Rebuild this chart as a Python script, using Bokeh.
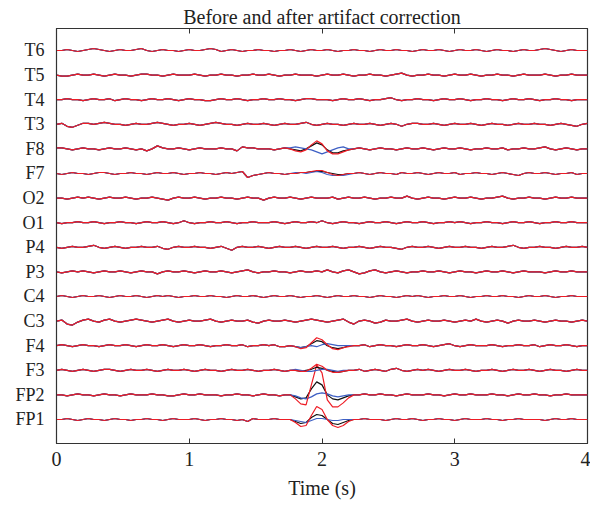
import numpy as np
from bokeh.plotting import figure
from bokeh.models import Range1d, FixedTicker, LinearAxis
from bokeh.embed import file_html
from bokeh.resources import INLINE

# ---------------- data (signal values in display units, + = up) ----------------
channels = ["FP1", "FP2", "F3", "F4", "C3", "C4", "P3", "P4",
            "O1", "O2", "F7", "F8", "T3", "T4", "T5", "T6"]   # bottom to top
x_ticks = [0, 1, 2, 3, 4]
duration = 4.0

T6 = [0,0,1,0,-1,0,1,2,1,0, -1,0,1,0,0,1,2,0,-1,0, 1,0,0,-1,0,1,0,0,1,2,
      1,-1,0,1,0,-1,0,0,1,0, 0,-1,0,0,1,0,-1,0,1,0, 0,1,0,-1,0,0,1,0,0,-1,
      0,1,0,0,1,0,0,-1,0,1, 0,0,1,0,-1,0,1,0,0,1, 0,-1,0,1,0,0,-1,0,1,0,
      0,1,2,1,0,-1,0,1,0,0, 0]
T5 = [0,-1,-1,0,1,0,0,1,0,-1, 0,1,0,0,-1,0,1,1,0,0, -1,0,1,0,0,0,1,0,-1,0,
      0,1,0,0,-1,0,0,1,0,0, 1,0,-1,0,0,1,0,0,0,-1, 0,1,0,0,1,0,-1,0,0,1,
      0,0,-1,0,1,2,0,-1,0,0, 1,0,0,-1,0,1,0,0,1,0, -1,0,0,1,0,0,-1,0,1,0,
      0,0,1,0,-1,0,0,1,0,0, 0]
T4 = [0,0,1,0,0,-1,0,1,0,0, 1,-1,0,1,0,0,-1,0,1,0, 0,1,0,-1,0,1,0,0,-1,-1,
      0,1,0,0,1,0,-1,0,0,1, 0,0,1,0,0,-1,0,1,1,0, 0,0,-1,0,1,0,0,1,0,-1,
      0,0,1,2,0,-1,0,0,1,0, 0,-1,0,1,0,0,1,0,-1,0, 0,1,0,0,-1,0,1,0,0,1,
      0,-1,0,0,1,0,0,-1,0,0, 0]
T3 = [0,1,-2,-3,-1,1,1,0,1,2, 1,0,0,-1,0,1,0,0,1,2, 1,0,-1,0,0,1,0,-1,0,1,
      2,1,0,0,-1,0,1,0,0,1, 0,-1,0,1,0,0,1,2,0,-1, 0,1,0,0,-1,0,1,0,0,1,
      0,-1,0,1,0,-2,0,1,1,0, 0,1,0,-1,0,1,0,0,1,0, -1,0,1,0,0,-1,0,1,0,0,
      1,0,0,-1,0,1,0,-1,-2,0, 1]
F8 = [1,1,0,-1,0,1,0,0,-1,0, 1,0,0,1,0,-1,0,-2,0,3, 1,0,0,1,0,-1,0,1,0,0,
      0,1,0,0,-2,2,1,1,0,0, 0,-1,0,1,0,0,0,0,0,0, 0,0,0,0,0,0,0,1,0,-1,
      0,1,0,0,-1,0,1,0,0,1, 0,-1,0,1,0,0,1,0,-1,0, 0,1,0,0,1,-1,0,0,1,0,
      0,1,2,0,-1,0,1,0,-1,0, 0]
F7 = [0,-1,0,1,0,0,-1,0,1,1, 0,-1,0,0,1,0,0,-1,0,1, 0,0,1,0,-1,0,0,1,0,0,
      -1,0,1,0,1,2,-4,-2,-1,0, 1,0,0,-1,0,0,0,0,0,0, 0,0,0,0,0,0,0,1,0,-1,
      0,1,0,0,-1,1,0,0,1,0, -1,0,1,0,0,1,-1,0,0,1, 0,0,-1,0,1,0,-1,-2,0,1,
      0,0,1,0,-1,0,0,1,-1,0, 0]
O2 = [0,0,-1,0,1,0,1,0,-1,0, 1,0,0,1,0,-1,0,0,1,0, -1,-2,0,1,0,0,1,0,-1,0,
      0,1,0,0,-1,0,1,0,0,-2, 0,1,0,0,1,0,-1,0,1,0, 0,0,1,-1,0,1,0,0,1,0,
      -1,0,0,1,0,0,2,0,-1,0, 1,0,0,-1,0,1,0,0,1,0, -1,0,0,1,2,0,-1,0,0,1,
      0,0,-1,0,1,0,0,1,0,0, 0]
O1 = [0,-1,0,0,1,0,0,1,0,-1, 0,0,1,0,0,-1,0,1,0,0, 1,0,-1,0,2,0,-1,0,0,1,
      0,0,1,0,-1,0,0,1,0,0, 0,1,0,-1,0,1,0,0,1,0, 2,0,-1,0,1,0,0,-1,0,1,
      0,0,1,0,-1,0,1,0,0,1, 0,-1,0,0,1,0,1,0,-1,0, 0,1,0,0,-1,0,1,0,0,1,
      0,-1,0,0,1,0,0,1,0,0, 0]
P4 = [0,-1,0,1,0,0,1,2,0,-1, 0,1,0,-1,0,0,1,0,0,1, -1,-2,0,1,0,0,1,0,0,-1,
      0,1,-1,-3,0,1,0,0,1,0, -1,0,1,0,0,1,0,-1,0,1, 0,0,1,0,-1,0,0,1,0,-1,
      0,1,0,0,-1,-2,0,1,0,0, 1,0,-1,0,1,0,0,1,0,0, -1,0,1,0,0,1,2,0,-1,0,
      0,1,0,0,-1,0,1,0,0,1, 0]
P3 = [0,-1,0,1,0,1,0,-1,0,1, 0,0,1,0,-1,0,1,0,0,-2, 0,1,0,0,1,0,-1,0,1,0,
      0,1,0,-1,0,1,2,0,-1,0, 0,1,0,0,-1,0,1,0,0,1, 0,2,0,-1,1,2,0,-2,-1,1,
      2,0,-1,0,1,0,-1,0,0,1, 0,0,1,0,-1,0,1,0,0,-1, 0,1,0,0,1,0,-1,0,1,0,
      0,0,-1,0,1,0,0,1,0,0, 0]
C4 = [0,1,0,-1,0,1,0,0,1,0, -1,0,1,0,0,1,0,-1,0,1, 0,1,0,-1,0,0,1,0,0,1,
      0,0,-1,0,1,0,0,1,0,-1, 0,1,0,0,1,0,-1,0,0,1, 0,-1,0,1,0,0,1,0,0,-1,
      0,1,0,0,-1,0,1,0,1,0, -1,0,0,1,0,0,1,0,-1,0, 0,1,0,0,1,0,0,-1,0,1,
      0,0,1,0,-1,0,0,1,0,0, 0]
C3 = [0,1,-3,-4,-1,1,2,0,-1,1, 2,0,-1,0,1,2,1,0,-1,0, 1,2,0,-1,0,1,0,0,1,2,
      0,-1,0,1,0,0,1,-1,-2,0, 1,0,0,1,0,-1,0,1,2,1, 0,-1,0,1,2,-1,-3,0,1,0,
      -2,-1,1,0,0,1,2,0,-1,0, 1,0,0,1,0,-1,0,1,0,2, 0,-1,0,1,0,-2,0,1,0,0,
      1,0,-1,0,1,0,0,-1,0,1, 0]
F4 = [0,1,0,-1,0,1,0,0,-1,0, 1,0,0,1,0,-1,0,1,0,0, 1,0,-1,0,1,0,0,1,0,-1,
      0,0,1,0,0,1,-1,0,0,1, 0,1,-1,-1,0,0,0,0,0,0, 0,0,0,0,0,0,0,0,1,-1,
      0,1,0,0,-1,0,1,0,0,1, 0,-1,0,1,2,0,-1,0,1,0, 0,0,1,0,-1,0,0,1,0,0,
      1,-1,0,1,0,0,1,0,-1,0, 0]
F3 = [0,1,0,-1,0,1,0,-1,0,1, 1,0,-1,0,1,0,0,1,0,-1, 0,1,0,0,1,0,-1,0,1,0,
      0,-1,0,1,0,0,1,0,-1,0, 0,1,0,-1,0,0,0,0,0,0, 0,0,0,0,0,0,0,1,-1,0,
      1,0,-1,1,2,0,-1,0,1,0, 1,0,-1,0,1,0,0,1,0,-1, 0,0,1,0,-1,0,1,0,0,1,
      0,-1,0,1,0,0,-1,0,1,0, 0]
FP2 = [0,0,-1,0,1,0,0,-1,0,1, 0,0,-1,0,1,0,0,0,1,0, 0,-1,-1,0,1,0,0,1,0,0,
       0,-1,0,0,1,0,0,-1,0,1, 0,0,-1,0,0,0,0,0,0,0, 0,0,0,0,0,0,0,0,1,0,
       0,1,0,0,-1,0,1,0,0,0, 1,0,0,-1,0,1,0,0,1,0, 0,0,1,0,0,-1,0,1,0,0,
       1,0,0,-1,0,0,1,0,0,0, 0]
FP1 = [0,0,1,0,-1,0,1,0,0,-1, 0,1,0,0,-1,0,0,1,0,0, -1,0,1,0,0,0,1,0,-1,0,
       0,1,0,0,-1,0,-2,1,0,0, 0,1,0,0,0,0,0,0,0,0, 0,0,0,0,0,0,0,0,1,0,
       0,0,-1,0,1,0,0,1,0,-1, 0,0,1,0,0,-1,0,1,0,0, 0,1,0,0,-1,0,0,1,0,0,
       0,0,-1,0,1,0,0,1,0,0, 0]

base_signals = {"T6": T6, "T5": T5, "T4": T4, "T3": T3, "F8": F8, "F7": F7,
                "O2": O2, "O1": O1, "P4": P4, "P3": P3, "C4": C4, "C3": C3,
                "F4": F4, "F3": F3, "FP2": FP2, "FP1": FP1}

# artifact segment (starting at t = 1.76 s, step 0.04 s) for each method
artifact_start = 1.76
art_black = {
    "F8":  [0,-1,-2,0,3,6,4,-1,-4,-4,-2,-1,0],
    "F7":  [0,0,1,1,2,2,2,1,0,-1,-1,0,0],
    "F4":  [0,-1,-2,-1,2,5,4,0,-2,-3,-2,0,0],
    "F3":  [0,0,-1,0,1,3,2,0,-1,-2,-1,0,0],
    "FP2": [0,-2,-4,-3,6,13,10,0,-4,-5,-3,-1,0],
    "FP1": [0,-2,-4,-3,2,5,4,0,-4,-5,-3,-1,0],
}
art_blue = {
    "F8":  [1,2,1,0,-1,-3,-5,-3,-1,1,2,0,0],
    "F7":  [0,1,1,0,1,2,1,-1,-2,-2,-2,-1,0],
    "F4":  [0,-1,-2,-1,0,-1,1,2,1,0,0,0,0],
    "F3":  [0,1,0,-1,-1,0,1,1,0,-1,0,0,0],
    "FP2": [0,-1,-3,-4,-2,1,2,1,-1,-2,-1,0,0],
    "FP1": [0,-1,-2,-3,-1,1,1,0,-1,-1,0,0,0],
}
art_red = {
    "F8":  [0,-2,-3,-1,4,8,5,-2,-5,-5,-3,-1,0],
    "F7":  [0,0,1,1,2,3,3,1,-1,-2,-1,0,0],
    "F4":  [0,-1,-3,-2,3,8,6,1,-3,-4,-2,-1,0],
    "F3":  [0,0,-1,-1,2,6,4,0,-2,-2,-1,0,0],
    "FP2": [0,-4,-9,-10,10,30,22,-5,-12,-12,-8,-3,0],
    "FP1": [0,-3,-7,-6,4,13,10,0,-6,-8,-6,-2,0],
}

# ---------------- figure ----------------
SCALE = 1 / 24.6   # display units -> channel spacing
SERIF = "Liberation Serif"
INK = "#222222"

p = figure(width=590, height=502, output_backend="svg", toolbar_location=None,
           x_range=Range1d(0, 4), y_range=Range1d(0.024, 16.894),
           min_border_left=56, min_border_right=3, min_border_top=28,
           min_border_bottom=59,
           title="Before and after artifact correction")
p.title.text_font = SERIF
p.title.text_font_size = "20px"
p.title.text_font_style = "normal"
p.title.align = "center"
p.title.text_color = INK
p.title.standoff = 1
p.title.offset = 0
p.grid.visible = False
p.background_fill_color = "white"
p.outline_line_color = "#333333"
p.outline_line_width = 1.2

colors = {"black": "#111111", "blue": "#3d5fc4", "red": "#ee1c25"}
arts = {"black": art_black, "blue": art_blue, "red": art_red}

for k, name in enumerate(channels):
    base = np.array(base_signals[name], dtype=float)
    n = len(base)
    t = np.linspace(0, duration, n)
    i0 = int(round(artifact_start / (duration / (n - 1))))
    for series in ("black", "blue", "red"):
        vals = base.copy()
        if name in arts[series]:
            a = arts[series][name]
            vals[i0:i0 + len(a)] = a
        p.line(t, (k + 1) + vals * SCALE, line_color=colors[series],
               line_width=1.2)

# axes
p.xaxis.ticker = FixedTicker(ticks=x_ticks)
p.xaxis.major_tick_in = 5
p.xaxis.major_tick_out = 0
p.xaxis.minor_tick_line_color = None
p.xaxis.axis_label = "Time (s)"
p.xaxis.axis_label_text_font = SERIF
p.xaxis.axis_label_text_font_size = "20px"
p.xaxis.axis_label_text_font_style = "normal"
p.xaxis.axis_label_text_color = INK
p.xaxis.axis_label_standoff = 8
p.xaxis.major_label_text_font = SERIF
p.xaxis.major_label_text_font_size = "20px"
p.xaxis.major_label_text_color = INK
p.xaxis.major_label_standoff = 8
p.xaxis.axis_line_color = "#333333"
p.xaxis.major_tick_line_color = "#333333"

p.yaxis.ticker = FixedTicker(ticks=list(range(1, len(channels) + 1)))
p.yaxis.major_label_overrides = {i + 1: c for i, c in enumerate(channels)}
p.yaxis.major_tick_line_color = None
p.yaxis.minor_tick_line_color = None
p.yaxis.major_label_text_font = SERIF
p.yaxis.major_label_text_font_size = "18px"
p.yaxis.major_label_text_color = INK
p.yaxis.major_label_standoff = 6
p.yaxis.axis_line_color = "#333333"

top = LinearAxis(ticker=FixedTicker(ticks=x_ticks),
                 major_label_overrides={v: "" for v in x_ticks},
                 major_tick_in=5, major_tick_out=0, minor_tick_line_color=None,
                 axis_line_color="#333333", major_tick_line_color="#333333",
                 major_label_standoff=0)
p.add_layout(top, "above")

open("out.html", "w").write(file_html(p, INLINE))
